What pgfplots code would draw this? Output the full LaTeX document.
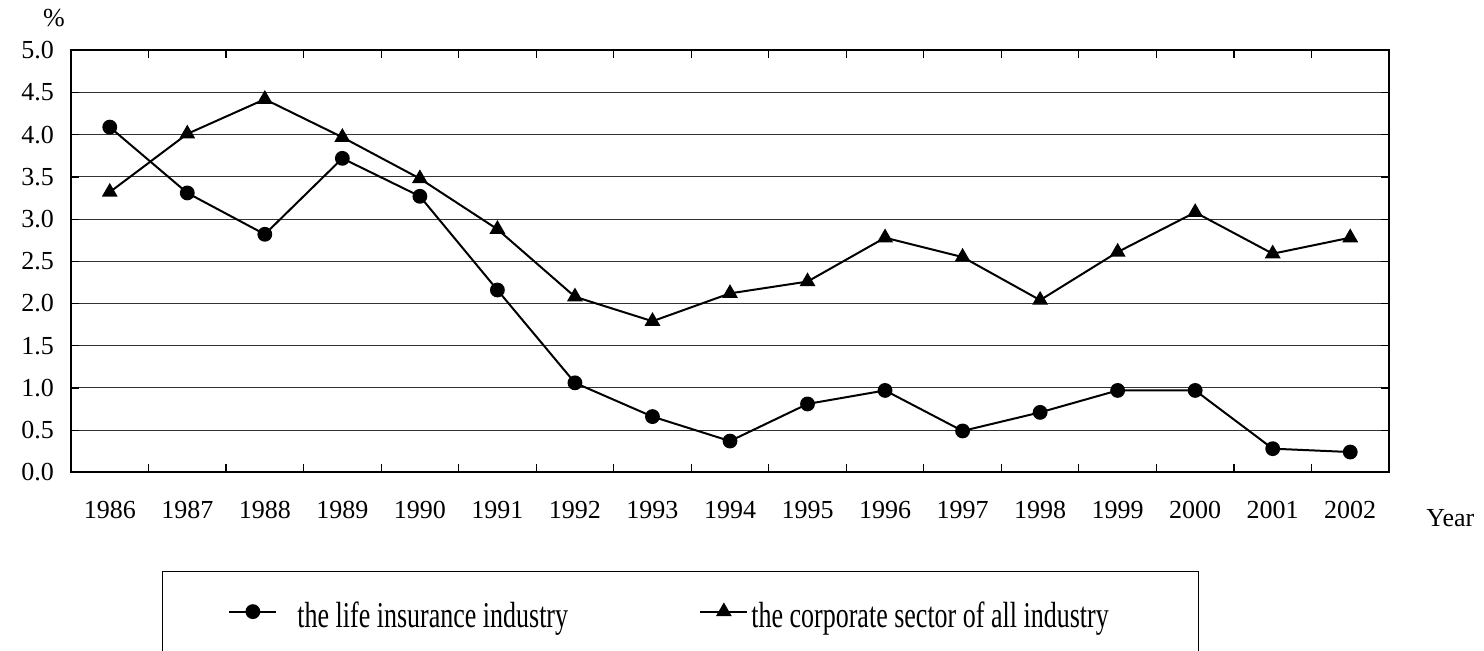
\documentclass[border=0pt]{standalone}
\usepackage{fontspec}
\setmainfont{Liberation Serif}
\usepackage{graphicx}
\usepackage{pgfplots}
\pgfplotsset{compat=1.18}
\pgfplotstableread{
x life corp
0 4.09 3.32
1 3.31 4.01
2 2.82 4.42
3 3.72 3.97
4 3.27 3.48
5 2.16 2.88
6 1.06 2.08
7 0.66 1.79
8 0.37 2.12
9 0.81 2.26
10 0.97 2.78
11 0.49 2.55
12 0.71 2.04
13 0.97 2.61
14 0.97 3.08
15 0.28 2.59
16 0.24 2.78
}\datatable
\newcommand{\fs}{\fontsize{13}{15.6}\selectfont}
\begin{document}
\begin{tikzpicture}[x=1pt,y=1pt]
\begin{axis}[
  at={(0,0)}, anchor=south west,
  scale only axis, width=659pt, height=211pt,
  xmin=-0.5, xmax=16.5, ymin=0, ymax=5,
  font=\fs,
  /pgf/number format/assume math mode=true,
  axis line style={line width=1pt},
  ytick={0,0.5,1,1.5,2,2.5,3,3.5,4,4.5,5},
  yticklabel style={xshift=-5pt, /pgf/number format/.cd, fixed, fixed zerofill, precision=1},
  ymajorgrids, grid style={line width=0.5pt, black!80},
  tick align=inside, major tick length=4pt,
  tick style={line width=0.6pt, black},
  xtick={0.5,1.5,...,15.5}, xticklabels={},
  extra x ticks={0,1,...,16},
  extra x tick labels={1986,1987,1988,1989,1990,1991,1992,1993,1994,1995,1996,1997,1998,1999,2000,2001,2002},
  extra x tick style={major tick length=0pt, xticklabel style={yshift=-11pt}},
  ylabel={\%},
  every axis y label/.style={at={(axis description cs:-0.0129,1.0754)}, anchor=center},
  xlabel={Year},
  every axis x label/.style={at={(axis description cs:1.0281,-0.1273)}, anchor=base west, inner sep=0pt},
  legend columns=2,
  legend style={at={(axis description cs:0.1191,-0.342)}, anchor=west, draw=none, fill=none,
    inner sep=0pt, font=\fs, cells={anchor=west}, nodes={inner sep=0pt},
    /tikz/every odd column/.append style={column sep=1.5pt},
    /tikz/every even column/.append style={column sep=0pt}},
  legend image code/.code={\draw[yshift=2.5pt, mark repeat=2, mark phase=2] plot coordinates {(0pt,0pt) (11.75pt,0pt) (23.5pt,0pt)};},
]
\addplot[black, line width=1pt, mark=*, mark size=3.2pt, mark options={solid, fill=black}] table[x=x, y=life] {\datatable};
\addlegendentry{\makebox[209.5pt][l]{\hspace{8.5pt}\scalebox{1}[1.4]{the life insurance industry}}}
\addplot[black, line width=1pt, mark=triangle*, mark size=3.6pt, mark options={solid, fill=black}] table[x=x, y=corp] {\datatable};
\addlegendentry{\scalebox{1}[1.4]{the corporate sector of all industry}}
\end{axis}
\draw[line width=0.5pt] (46,-49.35) rectangle (563.5,-90.35);
\pgfresetboundingbox
\path (-35.5,-88.85) rectangle (706.5,236.15);
\end{tikzpicture}
\end{document}
